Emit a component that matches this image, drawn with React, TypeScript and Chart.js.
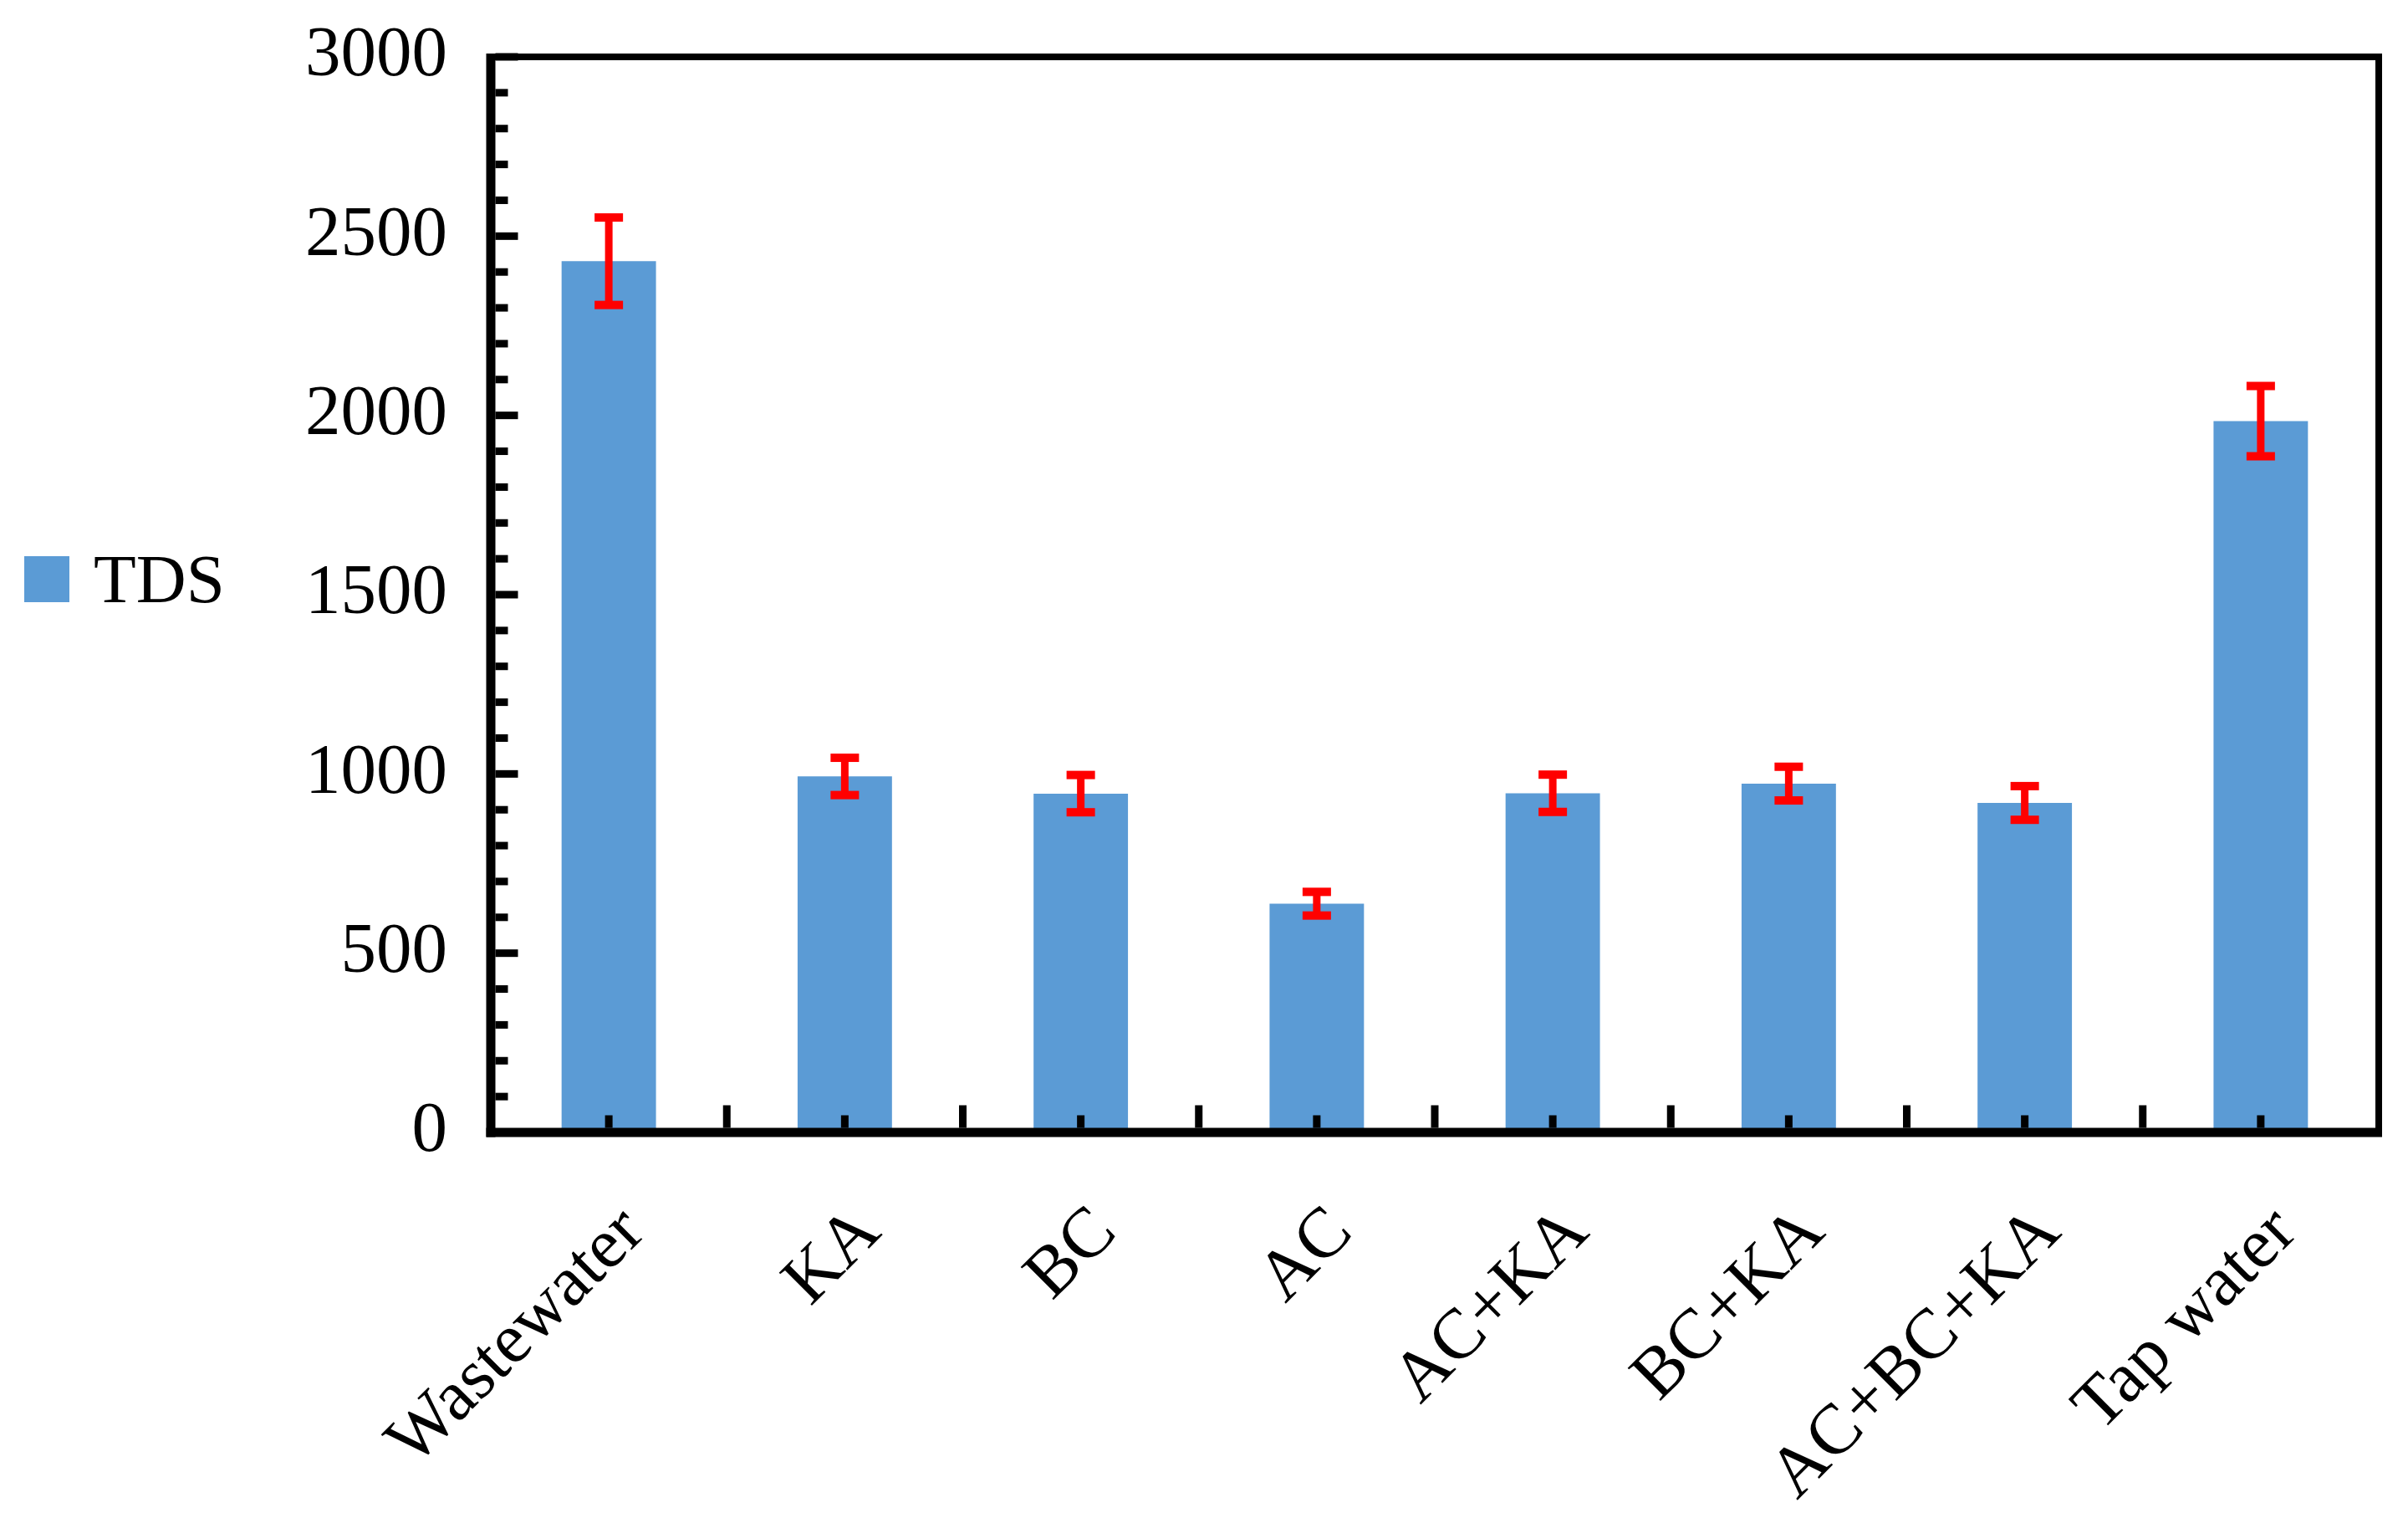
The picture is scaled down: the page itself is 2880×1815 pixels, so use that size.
import React, { useEffect, useRef } from "react";
import { Chart, registerables } from "chart.js";

Chart.register(...registerables);

// ---- data ----
const categories = ["Wastewater", "KA", "BC", "AC", "AC+KA", "BC+KA", "AC+BC+KA", "Tap water"];
const tdsValues = [2430, 993, 945, 638, 946, 973, 919, 1984];
const tdsErrors = [122, 52, 52, 33, 52, 47, 47, 98];
const yTickValues = [0, 500, 1000, 1500, 2000, 2500, 3000];
const seriesName = "TDS";

const FONT = "'Liberation Serif', 'Times New Roman', Times, serif";
const BAR_COLOR = "#5B9BD5";
const ERR_COLOR = "#FF0000";
const TARGET_TOP = 68;

const decorPlugin = {
  id: "decor",
  afterDatasetsDraw(chart: any) {
    const ctx = chart.ctx;
    const { left, top, right, bottom } = chart.chartArea;
    const xs = chart.scales.x;
    const ys = chart.scales.y;
    const meta = chart.getDatasetMeta(0);

    // error bars
    ctx.save();
    ctx.fillStyle = ERR_COLOR;
    meta.data.forEach((bar: any, i: number) => {
      const cx = bar.x;
      const yt = ys.getPixelForValue(tdsValues[i] + tdsErrors[i]);
      const yb = ys.getPixelForValue(tdsValues[i] - tdsErrors[i]);
      ctx.fillRect(cx - 4.5, yt, 9, yb - yt);
      ctx.fillRect(cx - 17, yt - 5, 34, 10);
      ctx.fillRect(cx - 17, yb - 5, 34, 10);
    });
    ctx.restore();

    // frame
    ctx.save();
    ctx.fillStyle = "#000";
    ctx.fillRect(left, top - 4, right - left + 4, 8);
    ctx.fillRect(right - 4, top - 4, 8, bottom - top + 8);
    ctx.fillRect(left - 5.5, top - 4, 11, bottom - top + 9.5);
    ctx.fillRect(left - 5.5, bottom - 5.5, right - left + 9.5, 11);

    // y ticks (inside)
    const yMax = yTickValues[yTickValues.length - 1];
    for (let v = 0; v <= yMax; v += 100) {
      const py = ys.getPixelForValue(v);
      const len = v % 500 === 0 ? 27 : 15;
      ctx.fillRect(left + 5.5, py - 4.5, len, 9);
    }
    // x ticks (inside)
    for (let i = 0; i < categories.length; i++) {
      const cx = xs.getPixelForValue(i);
      ctx.fillRect(cx - 4.5, bottom - 5.5 - 15, 9, 15);
      if (i > 0) {
        const bx = (xs.getPixelForValue(i - 1) + cx) / 2;
        ctx.fillRect(bx - 4.5, bottom - 5.5 - 27, 9, 27);
      }
    }
    ctx.restore();
  },
  afterDraw(chart: any) {
    const ctx = chart.ctx;
    ctx.save();
    ctx.fillStyle = BAR_COLOR;
    ctx.fillRect(29, 665, 54, 55);
    ctx.fillStyle = "#000";
    ctx.font = `83px ${FONT}`;
    ctx.textAlign = "left";
    ctx.textBaseline = "alphabetic";
    ctx.fillText(seriesName, 112, 720);
    ctx.restore();
  },
};

export default function App() {
  const ref = useRef<HTMLCanvasElement>(null);

  useEffect(() => {
    document.body.style.margin = "0";
    const chart = new Chart(ref.current as HTMLCanvasElement, {
      type: "bar",
      data: {
        labels: categories,
        datasets: [
          {
            label: seriesName,
            data: tdsValues,
            backgroundColor: BAR_COLOR,
            borderWidth: 0,
            barPercentage: 0.4,
            categoryPercentage: 1,
          },
        ],
      },
      options: {
        responsive: false,
        animation: false,
        devicePixelRatio: 1,
        layout: { padding: { left: 0, top: TARGET_TOP, right: 35, bottom: 0 } },
        plugins: { legend: { display: false }, tooltip: { enabled: false } },
        scales: {
          x: {
            grid: { display: false, drawTicks: false },
            border: { display: false },
            ticks: {
              font: { family: FONT, size: 85 },
              color: "#000",
              maxRotation: 45,
              minRotation: 45,
              autoSkip: false,
              padding: 70,
              labelOffset: 30,
            },
            afterFit: (s: any) => {
              s.height = 461;
            },
          },
          y: {
            min: 0,
            max: 3000,
            grid: { display: false, drawTicks: false },
            border: { display: false },
            ticks: {
              stepSize: 500,
              font: { family: FONT, size: 85 },
              color: "#000",
              padding: 52,
              callback: (v: any) => (yTickValues.includes(Number(v)) ? String(v) : ""),
            },
            afterFit: (s: any) => {
              s.width = 587;
              // keep the y scale from pushing the plot area down
              s.paddingTop = 0;
              s.paddingBottom = 0;
            },
          },
        },
      },
      plugins: [decorPlugin],
    });
    return () => chart.destroy();
  }, []);

  return (
    <div style={{ position: "fixed", left: 0, top: 0, width: 2880, height: 1815, background: "#fff" }}>
      <canvas ref={ref} width={2880} height={1815} style={{ width: 2880, height: 1815, display: "block" }} />
    </div>
  );
}
